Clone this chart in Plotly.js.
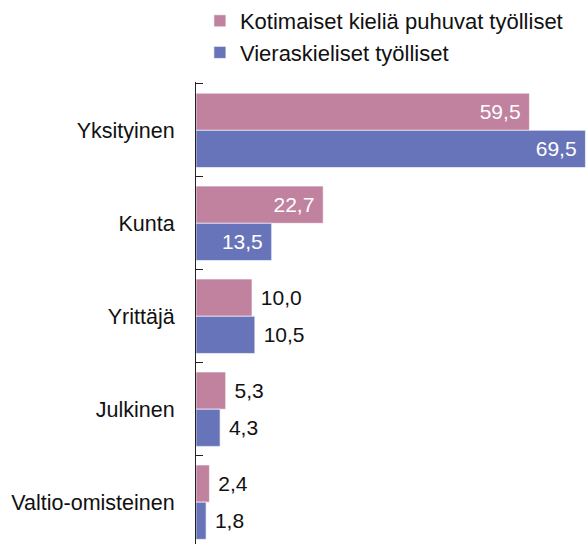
<!DOCTYPE html>
<html>
<head>
<meta charset="utf-8">
<script src="https://cdn.plot.ly/plotly-3.0.1.min.js"></script>
<style>html,body{margin:0;padding:0;background:#fff;}#chart{width:586px;height:544px;}</style>
</head>
<body>
<div id="chart"></div>
<script>
const categories = ['Yksityinen', 'Kunta', 'Yrittäjä', 'Julkinen', 'Valtio-omisteinen'];
const domesticValues = [59.5, 22.7, 10.0, 5.3, 2.4];
const foreignValues = [69.5, 13.5, 10.5, 4.3, 1.8];
const seriesNames = ['Kotimaiset kieliä puhuvat työlliset', 'Vieraskieliset työlliset'];
const seriesColors = ['#c0829f', '#6874ba'];

const FONT = 'Liberation Sans, Arial, sans-serif';
const NB = '\u00a0';
function fmt(v) { return v.toFixed(1).replace('.', ','); }
function positions(vals) { return vals.map(v => v > 12 ? 'inside' : 'outside'); }
function texts(vals) { return vals.map(v => v > 12 ? fmt(v) + NB : NB + fmt(v)); }

function makeTrace(vals, name, color) {
  return {
    type: 'bar', orientation: 'h',
    x: vals, y: categories, name: name,
    marker: {color: color, line: {color: 'rgba(255,255,255,0.6)', width: 1}},
    text: texts(vals), textposition: positions(vals),
    insidetextanchor: 'end', textangle: 0, constraintext: 'none',
    insidetextfont: {color: '#ffffff', size: 21, family: FONT},
    outsidetextfont: {color: '#111111', size: 21, family: FONT},
    cliponaxis: false, hoverinfo: 'none'
  };
}

const data = [
  makeTrace(domesticValues, seriesNames[0], seriesColors[0]),
  makeTrace(foreignValues, seriesNames[1], seriesColors[1])
];

const layout = {
  width: 586, height: 544,
  margin: {l: 196, r: 0, t: 75, b: 0, pad: 0},
  paper_bgcolor: '#fff', plot_bgcolor: '#fff',
  font: {family: FONT, size: 21, color: '#111'},
  barmode: 'group', bargap: 0.2, bargroupgap: 0,
  showlegend: true,
  legend: {x: 0.01, xanchor: 'left', y: 1.178, yanchor: 'top', yref: 'paper',
           font: {size: 22, family: FONT, color: '#111'}, bgcolor: 'rgba(0,0,0,0)',
           tracegroupgap: 0, itemclick: false},
  xaxis: {range: [0, 69.6], visible: false, showgrid: false, zeroline: false},
  yaxis: {type: 'category', categoryorder: 'array', categoryarray: categories,
          range: [4.45, -0.52], showline: true, linecolor: '#222', linewidth: 1,
          ticks: 'inside', tickson: 'boundaries', ticklen: 7, tickcolor: '#222', tickwidth: 1,
          showgrid: false, zeroline: false, ticklabelstandoff: 16,
          tickfont: {size: 21.5, family: FONT, color: '#111'}}
};

Plotly.newPlot('chart', data, layout, {displayModeBar: false, staticPlot: true});
</script>
</body>
</html>
